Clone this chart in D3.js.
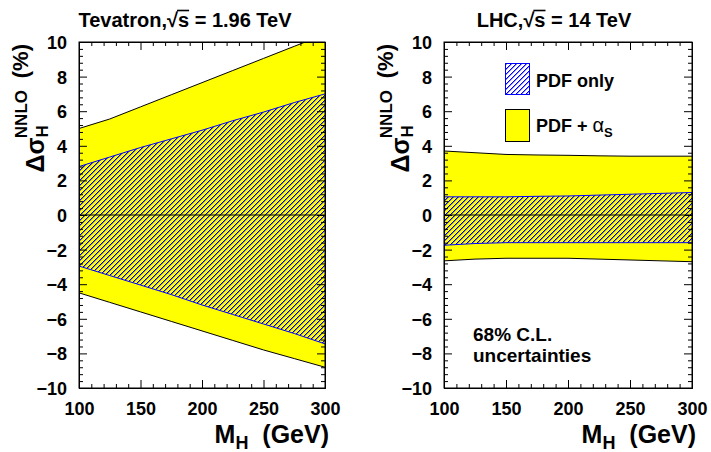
<!DOCTYPE html>
<html><head><meta charset="utf-8">
<script src="https://cdn.jsdelivr.net/npm/d3@7"></script>
<style>
body{margin:0;background:#fff}
text{font-family:"Liberation Sans",Arial,Helvetica,sans-serif;font-weight:bold;fill:#000}
</style>
</head><body>
<svg id="c" width="711" height="452"></svg>
<script>
// Higgs mass grid (GeV)
const mass = [100, 125, 150, 175, 200, 225, 250, 275, 300];

// Tevatron, sqrt(s) = 1.96 TeV : relative NNLO cross-section uncertainty (%)
const tevTotUp = [5.0, 5.55, 6.25, 6.95, 7.65, 8.35, 9.05, 9.75, 10.45];
const tevPdfUp = [2.8, 3.35, 3.9, 4.4, 4.9, 5.45, 5.95, 6.5, 7.0];
const tevPdfDn = [-2.95, -3.5, -4.05, -4.6, -5.2, -5.75, -6.3, -6.85, -7.45];
const tevTotDn = [-4.5, -5.05, -5.6, -6.15, -6.7, -7.25, -7.8, -8.3, -8.8];

// LHC, sqrt(s) = 14 TeV
const lhcTotUp = [3.7, 3.6, 3.5, 3.47, 3.45, 3.42, 3.4, 3.4, 3.4];
const lhcPdfUp = [1.05, 1.05, 1.05, 1.08, 1.1, 1.15, 1.2, 1.25, 1.3];
const lhcPdfDn = [-1.75, -1.65, -1.6, -1.6, -1.6, -1.6, -1.6, -1.6, -1.6];
const lhcTotDn = [-2.65, -2.55, -2.5, -2.5, -2.5, -2.55, -2.6, -2.65, -2.7];

// axis ticks
const xMajor = [100, 150, 200, 250, 300];
const yMajor = [-10, -8, -6, -4, -2, 0, 2, 4, 6, 8, 10];

const svg = d3.select("#c");
const defs = svg.append("defs");

// diagonal blue hatching, built on the pixel grid
const T = 5;
const pat = defs.append("pattern").attr("id", "hatch")
  .attr("patternUnits", "userSpaceOnUse")
  .attr("width", T).attr("height", T);
d3.range(T).forEach(r => {
  pat.append("rect").attr("x", T - 1 - r).attr("y", r).attr("width", 1).attr("height", 1)
    .attr("fill", "#0000ff");
  pat.append("rect").attr("x", (2 * T - r) % T).attr("y", r).attr("width", 1).attr("height", 1)
    .attr("fill", "#0000ff").attr("fill-opacity", 0.45);
});

const yTop = 42, yBot = 388;

const panels = [
  {x0: 79, x1: 325, shift: -17, title: ["Tevatron,", "s = 1.96 TeV"], totUp: tevTotUp, pdfUp: tevPdfUp, pdfDn: tevPdfDn, totDn: tevTotDn, id: "a"},
  {x0: 444, x1: 692, shift: -14, title: ["LHC,", "s = 14 TeV"], totUp: lhcTotUp, pdfUp: lhcPdfUp, pdfDn: lhcPdfDn, totDn: lhcTotDn, id: "b"}
];

panels.forEach(p => {
  const x = d3.scaleLinear().domain([100, 300]).range([p.x0, p.x1]);
  const y = d3.scaleLinear().domain([-10, 10]).range([yBot, yTop]);
  const g = svg.append("g");

  defs.append("clipPath").attr("id", "clip" + p.id)
    .append("rect").attr("x", p.x0).attr("y", yTop)
    .attr("width", p.x1 - p.x0).attr("height", yBot - yTop);
  const plot = g.append("g").attr("clip-path", `url(#clip${p.id})`);

  const idx = d3.range(mass.length);
  const band = (lo, hi) => d3.area().x(i => x(mass[i])).y0(i => y(lo[i])).y1(i => y(hi[i]))(idx);
  const edge = v => d3.line().x(i => x(mass[i])).y(i => y(v[i]))(idx);

  // PDF + alpha_s band
  plot.append("path").attr("d", band(p.totDn, p.totUp)).attr("fill", "#ffff00");
  [p.totUp, p.totDn].forEach(v => plot.append("path").attr("d", edge(v))
    .attr("fill", "none").attr("stroke", "#000").attr("stroke-width", 1));
  // PDF-only band (hatched)
  plot.append("path").attr("d", band(p.pdfDn, p.pdfUp)).attr("fill", "url(#hatch)");
  [p.pdfUp, p.pdfDn].forEach(v => plot.append("path").attr("d", edge(v))
    .attr("fill", "none").attr("stroke", "#0000ff").attr("stroke-width", 1));
  // zero line
  plot.append("line").attr("x1", p.x0).attr("x2", p.x1)
    .attr("y1", y(0)).attr("y2", y(0)).attr("stroke", "#000").attr("stroke-width", 1);

  // axes with inward ticks on all four sides
  const tk = (axis, major) => axis.tickSizeInner(-8).tickSizeOuter(0).tickValues(major);
  const minorX = d3.range(100, 301, 10).filter(v => !xMajor.includes(v));
  const minorY = d3.range(-10, 10.01, 0.4).map(v => +v.toFixed(1)).filter(v => !yMajor.includes(v));

  g.append("g").attr("transform", `translate(0,${yBot})`)
    .call(tk(d3.axisBottom(x), xMajor).tickFormat(d3.format("d")).tickPadding(14));
  g.append("g").attr("transform", `translate(0,${yTop})`)
    .call(tk(d3.axisTop(x), xMajor).tickFormat(""));
  const yl = g.append("g").attr("transform", `translate(${p.x0},0)`)
    .call(tk(d3.axisLeft(y), yMajor).tickFormat(d => d3.format("d")(d).replace("-", "\u2212")).tickPadding(12));
  g.append("g").attr("transform", `translate(${p.x1},0)`)
    .call(tk(d3.axisRight(y), yMajor).tickFormat(""));

  g.append("g").attr("transform", `translate(0,${yBot})`)
    .call(d3.axisBottom(x).tickValues(minorX).tickSizeInner(-4).tickSizeOuter(0).tickFormat(""));
  g.append("g").attr("transform", `translate(0,${yTop})`)
    .call(d3.axisTop(x).tickValues(minorX).tickSizeInner(-4).tickSizeOuter(0).tickFormat(""));
  g.append("g").attr("transform", `translate(${p.x0},0)`)
    .call(d3.axisLeft(y).tickValues(minorY).tickSizeInner(-4).tickSizeOuter(0).tickFormat(""));
  g.append("g").attr("transform", `translate(${p.x1},0)`)
    .call(d3.axisRight(y).tickValues(minorY).tickSizeInner(-4).tickSizeOuter(0).tickFormat(""));

  g.selectAll(".domain").attr("stroke", "#000").attr("stroke-width", 1);
  g.selectAll(".tick line").attr("stroke", "#000");
  g.selectAll(".tick text").attr("font-size", 18).attr("font-weight", "bold")
    .attr("font-family", "Liberation Sans, Arial, sans-serif").attr("fill", "#000");
  yl.selectAll(".tick text").attr("dy", "0.36em");

  // frame
  g.append("rect").attr("x", p.x0).attr("y", yTop).attr("width", p.x1 - p.x0)
    .attr("height", yBot - yTop).attr("fill", "none").attr("stroke", "#000");

  // panel title with square-root sign and its bar over "s"
  const cx = (p.x0 + p.x1) / 2 + p.shift;
  const t = g.append("text").attr("x", cx).attr("y", 27).attr("text-anchor", "middle").attr("font-size", 20);
  t.append("tspan").text(p.title[0]);
  t.append("tspan").text("\u221A");
  t.append("tspan").text(p.title[1]);
  const si = p.title[0].length + 1;
  const ext = t.node().getExtentOfChar(si);
  g.append("line").attr("x1", ext.x - 1).attr("x2", ext.x + ext.width)
    .attr("y1", 10.5).attr("y2", 10.5).attr("stroke", "#000").attr("stroke-width", 1.6);

  // x axis title
  const xtl = g.append("text").attr("x", p.x1 + 4).attr("y", 443).attr("text-anchor", "end").attr("font-size", 25);
  xtl.append("tspan").text("M");
  xtl.append("tspan").attr("font-size", 18).attr("dy", 6).text("H");
  xtl.append("tspan").attr("dy", -6).text("\u00a0\u00a0(GeV)");

  // y axis title (rotated)
  const yg = g.append("g").attr("transform", `translate(${p.x0 - 35},${yTop}) rotate(-90)`);
  yg.append("text").attr("x", -2).attr("y", -16).attr("text-anchor", "end").attr("font-size", 22).text("(%)");
  const yt = yg.append("text").attr("x", -48).attr("y", 0).attr("text-anchor", "end").attr("font-size", 25);
  yt.append("tspan").text("\u0394\u03C3");
  yt.append("tspan").attr("font-size", 17).attr("dy", 4).text("H");
  yt.append("tspan").attr("font-size", 17).attr("dx", -13).attr("dy", -21).text("NNLO");
});

// legend (right panel)
const lg = svg.append("g");
lg.append("rect").attr("x", 505).attr("y", 63).attr("width", 25).attr("height", 32).attr("fill", "#fff");
lg.append("rect").attr("x", 505.5).attr("y", 63.5).attr("width", 24).attr("height", 31)
  .attr("fill", "url(#hatch)").attr("stroke", "#0000ff").attr("stroke-width", 1);
lg.append("text").attr("x", 536).attr("y", 87).attr("font-size", 18).text("PDF only");
lg.append("rect").attr("x", 505.5).attr("y", 109.5).attr("width", 24).attr("height", 32)
  .attr("fill", "#ffff00").attr("stroke", "#000").attr("stroke-width", 1);
const l2 = lg.append("text").attr("x", 536).attr("y", 132).attr("font-size", 18);
l2.append("tspan").text("PDF + ");
l2.append("tspan").attr("font-weight", "normal").attr("font-size", 20).text("\u03B1");
l2.append("tspan").attr("font-size", 13).attr("dy", 5).text("S");

svg.append("text").attr("x", 473).attr("y", 341).attr("font-size", 19).text("68% C.L.");
svg.append("text").attr("x", 473).attr("y", 362).attr("font-size", 19).text("uncertainties");
</script>
</body></html>
